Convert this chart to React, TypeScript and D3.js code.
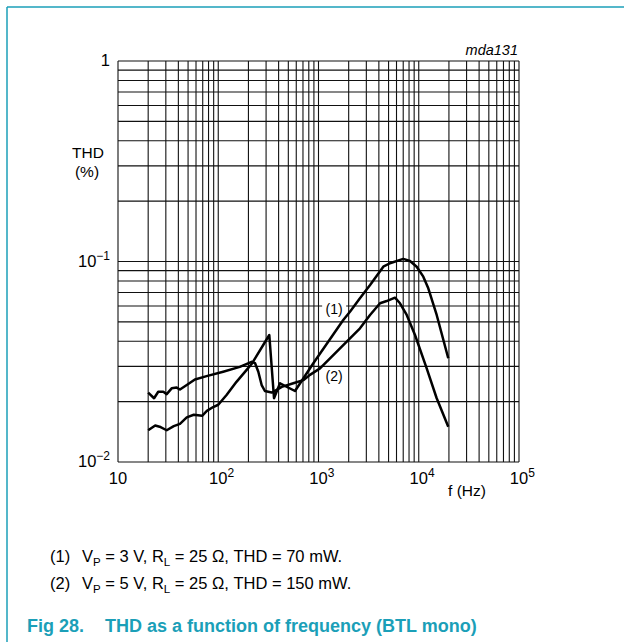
import React from "react";
import { scaleLog, line, curveLinear } from "d3";

// curve (1): VP = 3 V
const freq1 = [
  20, 23.5, 26, 30.6, 36, 41.5, 48.5, 57, 69, 77, 89, 100, 121, 152, 192, 215,
  323, 360, 413, 583, 888, 1766, 2060, 2590, 3270, 4430, 5160, 7010, 8180,
  9540, 11100, 12450, 15100, 19700,
];
const thd1 = [
  0.0144, 0.0152, 0.015, 0.0144, 0.0151, 0.0155, 0.0167, 0.0172, 0.017, 0.018,
  0.0188, 0.0193, 0.0216, 0.0251, 0.0288, 0.0308, 0.043, 0.0208, 0.0247,
  0.0226, 0.0311, 0.0511, 0.0562, 0.0655, 0.0763, 0.0942, 0.098, 0.103, 0.1006,
  0.0942, 0.084, 0.0735, 0.0541, 0.0329,
];

// curve (2): VP = 5 V
const freq2 = [
  20, 22.9, 25.2, 28.3, 30.6, 34.3, 38.5, 41.5, 48.5, 58.5, 76.5, 112, 164, 215,
  233, 251, 271, 292, 341, 383, 430, 561, 705, 822, 1035, 1303, 1639, 2061,
  2594, 3266, 4108, 4786, 5794, 6500, 7586, 9177, 12000, 15100, 19700,
];
const thd2 = [
  0.0222, 0.0208, 0.0224, 0.0224, 0.0218, 0.0233, 0.0235, 0.023, 0.0242,
  0.0258, 0.0268, 0.0282, 0.0298, 0.0316, 0.0311, 0.0282, 0.0242, 0.0226,
  0.0222, 0.0229, 0.0237, 0.0247, 0.0256, 0.0272, 0.0293, 0.0329, 0.0369,
  0.0414, 0.0464, 0.0541, 0.0619, 0.0635, 0.066, 0.0619, 0.0541, 0.043, 0.0293,
  0.0208, 0.015,
];

const xLabelValues = [10, 100, 1000, 10000, 100000];
const xLabelExps = ["", "2", "3", "4", "5"];
const yLabelValues = [1, 0.1, 0.01];
const yLabelBase = ["1", "10", "10"];
const yLabelExps = ["", "−1", "−2"];

const legendLines = [
  { id: "(1)", vp: "3", thd: "70" },
  { id: "(2)", vp: "5", thd: "150" },
];

const FONT = "'Liberation Sans', Arial, sans-serif";
const TEAL = "#1b9fb8";

export default function App() {
  const x = scaleLog().domain([10, 100000]).range([118, 519]);
  const y = scaleLog().domain([0.01, 1]).range([462, 61]);

  const xGrid = x.ticks();
  const yGrid = y.ticks();

  const path = line<[number, number]>()
    .x((d) => x(d[0]))
    .y((d) => y(d[1]))
    .curve(curveLinear);

  const series = [
    freq1.map((f, i) => [f, thd1[i]] as [number, number]),
    freq2.map((f, i) => [f, thd2[i]] as [number, number]),
  ];

  const curveLabels = [
    { text: "(1)", f: 1400, v: 0.058 },
    { text: "(2)", f: 1400, v: 0.0268 },
  ];

  return (
    <svg
      width={624}
      height={642}
      style={{ position: "absolute", left: 0, top: 0, background: "#fff" }}
      fontFamily={FONT}
    >
      <rect width={624} height={642} fill="#fff" />
      <line x1={7} y1={7} x2={624} y2={7} stroke={TEAL} strokeWidth={1.5} />
      <line x1={7} y1={7} x2={7} y2={642} stroke={TEAL} strokeWidth={1.5} />

      {/* grid */}
      <g stroke="#111" strokeWidth={1.1}>
        {xGrid.map((t) => (
          <line key={`vx${t}`} x1={x(t)} x2={x(t)} y1={y(1)} y2={y(0.01)} />
        ))}
        {yGrid.map((t) => (
          <line key={`hy${t}`} x1={x(10)} x2={x(100000)} y1={y(t)} y2={y(t)} />
        ))}
      </g>

      {/* curve labels with white boxes over the grid */}
      {curveLabels.map((l) => (
        <g key={l.text}>
          <rect
            x={x(l.f) - 11}
            y={y(l.v) - 9}
            width={24}
            height={18}
            fill="#fff"
          />
          <text
            x={x(l.f) + 1}
            y={y(l.v) + 5}
            fontSize={14}
            textAnchor="middle"
            fill="#000"
          >
            {l.text}
          </text>
        </g>
      ))}

      {/* curves */}
      {series.map((s, i) => (
        <path
          key={i}
          d={path(s) ?? ""}
          fill="none"
          stroke="#000"
          strokeWidth={2.5}
          strokeLinejoin="round"
        />
      ))}

      {/* y tick labels */}
      {yLabelValues.map((v, i) => (
        <text
          key={`yl${v}`}
          x={110}
          y={y(v) + 5}
          fontSize={16.5}
          textAnchor="end"
          fill="#000"
        >
          {yLabelBase[i]}
          {yLabelExps[i] && (
            <tspan fontSize={12} dy={-7}>
              {yLabelExps[i]}
            </tspan>
          )}
        </text>
      ))}

      {/* x tick labels */}
      {xLabelValues.map((v, i) => (
        <text
          key={`xl${v}`}
          x={x(v) - 9.2}
          y={484}
          fontSize={16.5}
          textAnchor="start"
          fill="#000"
        >
          10
          {xLabelExps[i] && (
            <tspan fontSize={12} dy={-7}>
              {xLabelExps[i]}
            </tspan>
          )}
        </text>
      ))}

      {/* axis titles */}
      <text x={88} y={158} fontSize={15.5} textAnchor="middle">
        THD
      </text>
      <text x={87} y={177} fontSize={15.5} textAnchor="middle">
        (%)
      </text>
      <text x={467} y={496} fontSize={15.5} textAnchor="middle">
        f (Hz)
      </text>
      <text
        x={518}
        y={55}
        fontSize={14.5}
        textAnchor="end"
        fontStyle="italic"
      >
        mda131
      </text>

      {/* legend */}
      {legendLines.map((l, i) => (
        <text key={l.id} x={50} y={562 + i * 27} fontSize={16.5} fill="#000">
          {l.id}
          <tspan x={82}>V</tspan>
          <tspan fontSize={11.5} dy={3.5}>
            P
          </tspan>
          <tspan dy={-3.5}>{` = ${l.vp} V, R`}</tspan>
          <tspan fontSize={11.5} dy={3.5}>
            L
          </tspan>
          <tspan dy={-3.5}>{` = 25 Ω, THD = ${l.thd} mW.`}</tspan>
        </text>
      ))}

      {/* caption */}
      <text
        x={27}
        y={632}
        fontSize={18}
        fontWeight="bold"
        fill={TEAL}
      >
        Fig 28.
        <tspan x={105}>THD as a function of frequency (BTL mono)</tspan>
      </text>
    </svg>
  );
}
